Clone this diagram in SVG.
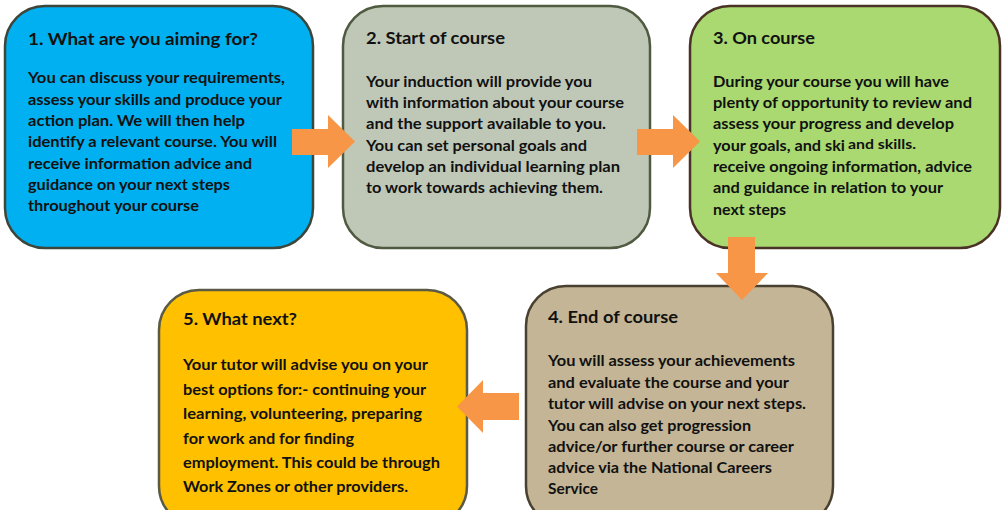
<svg xmlns="http://www.w3.org/2000/svg" width="1005" height="510" viewBox="0 0 1005 510">
<style>
.box{stroke-width:2.5}
.t{font-family:Lato,"Open Sans","Liberation Sans",sans-serif;font-weight:bold;fill:#111;}
.h{font-size:17.5px}
.b{font-size:15px}
.arr{fill:#F79646}
</style>
<rect width="1005" height="510" fill="#fff"/>
<g id="node1">
<rect class="box" x="5" y="6" width="308" height="242" rx="40" fill="#00B0F0" stroke="#3c463a"/>
<text class="t h" x="28" y="45" textLength="230" lengthAdjust="spacingAndGlyphs">1. What are you aiming for?</text>
<text class="t b" x="28" y="83" textLength="257" lengthAdjust="spacingAndGlyphs">You can discuss your requirements,</text>
<text class="t b" x="28" y="104.5" textLength="254" lengthAdjust="spacingAndGlyphs">assess your skills and produce your</text>
<text class="t b" x="28" y="126" textLength="217" lengthAdjust="spacingAndGlyphs">action plan. We will then help</text>
<text class="t b" x="28" y="147" textLength="249" lengthAdjust="spacingAndGlyphs">identify a relevant course. You will</text>
<text class="t b" x="28" y="168.5" textLength="224" lengthAdjust="spacingAndGlyphs">receive information advice and</text>
<text class="t b" x="28" y="190" textLength="202" lengthAdjust="spacingAndGlyphs">guidance on your next steps</text>
<text class="t b" x="28" y="211" textLength="171" lengthAdjust="spacingAndGlyphs">throughout your course</text>
</g>
<g id="node2">
<rect class="box" x="343" y="6" width="307" height="242" rx="40" fill="#BFC7B7" stroke="#4f5a40"/>
<text class="t h" x="366" y="44" textLength="139" lengthAdjust="spacingAndGlyphs">2. Start of course</text>
<text class="t b" x="366" y="87" textLength="226" lengthAdjust="spacingAndGlyphs">Your induction will provide you</text>
<text class="t b" x="366" y="108" textLength="258" lengthAdjust="spacingAndGlyphs">with information about your course</text>
<text class="t b" x="366" y="129" textLength="240" lengthAdjust="spacingAndGlyphs">and the support available to you.</text>
<text class="t b" x="366" y="151" textLength="221" lengthAdjust="spacingAndGlyphs">You can set personal goals and</text>
<text class="t b" x="366" y="172" textLength="254" lengthAdjust="spacingAndGlyphs">develop an individual learning plan</text>
<text class="t b" x="366" y="193" textLength="237" lengthAdjust="spacingAndGlyphs">to work towards achieving them.</text>
</g>
<g id="node3">
<rect class="box" x="690" y="6" width="310" height="242" rx="40" fill="#A9D970" stroke="#4a3326"/>
<text class="t h" x="713" y="44" textLength="102" lengthAdjust="spacingAndGlyphs">3. On course</text>
<text class="t b" x="713" y="87" textLength="236" lengthAdjust="spacingAndGlyphs">During your course you will have</text>
<text class="t b" x="713" y="108" textLength="259" lengthAdjust="spacingAndGlyphs">plenty of opportunity to review and</text>
<text class="t b" x="713" y="129" textLength="241" lengthAdjust="spacingAndGlyphs">assess your progress and develop</text>
<text class="t b" x="713" y="151" textLength="132" lengthAdjust="spacingAndGlyphs">your goals, and ski</text>
<text class="t" style="font-size:14px" x="848" y="149" textLength="68" lengthAdjust="spacingAndGlyphs">and skills.</text>
<text class="t b" x="713" y="172" textLength="259" lengthAdjust="spacingAndGlyphs">receive ongoing information, advice</text>
<text class="t b" x="713" y="193" textLength="230" lengthAdjust="spacingAndGlyphs">and guidance in relation to your</text>
<text class="t b" x="713" y="215" textLength="73" lengthAdjust="spacingAndGlyphs">next steps</text>
</g>
<g id="node4">
<rect class="box" x="526" y="286" width="307" height="240" rx="40" fill="#C4B596" stroke="#4a4030"/>
<text class="t h" x="548" y="323" textLength="130" lengthAdjust="spacingAndGlyphs">4. End of course</text>
<text class="t b" x="548" y="366" textLength="247" lengthAdjust="spacingAndGlyphs">You will assess your achievements</text>
<text class="t b" x="548" y="388" textLength="241" lengthAdjust="spacingAndGlyphs">and evaluate the course and your</text>
<text class="t b" x="548" y="409" textLength="258" lengthAdjust="spacingAndGlyphs">tutor will advise on your next steps.</text>
<text class="t b" x="548" y="431" textLength="203" lengthAdjust="spacingAndGlyphs">You can also get progression</text>
<text class="t b" x="548" y="452" textLength="246" lengthAdjust="spacingAndGlyphs">advice/or further course or career</text>
<text class="t b" x="548" y="473" textLength="224" lengthAdjust="spacingAndGlyphs">advice via the National Careers</text>
<text class="t b" x="548" y="494" textLength="50" lengthAdjust="spacingAndGlyphs">Service</text>
</g>
<g id="node5">
<rect class="box" x="159" y="290" width="308" height="236" rx="40" fill="#FFC000" stroke="#5a5a45"/>
<text class="t h" x="183" y="325" textLength="114" lengthAdjust="spacingAndGlyphs">5. What next?</text>
<text class="t b" x="183" y="370" textLength="245" lengthAdjust="spacingAndGlyphs">Your tutor will advise you on your</text>
<text class="t b" x="183" y="395" textLength="243" lengthAdjust="spacingAndGlyphs">best options for:- continuing your</text>
<text class="t b" x="183" y="419" textLength="239" lengthAdjust="spacingAndGlyphs">learning, volunteering, preparing</text>
<text class="t b" x="183" y="444" textLength="171" lengthAdjust="spacingAndGlyphs">for work and for finding</text>
<text class="t b" x="183" y="468" textLength="257" lengthAdjust="spacingAndGlyphs">employment. This could be through</text>
<text class="t b" x="183" y="492" textLength="225" lengthAdjust="spacingAndGlyphs">Work Zones or other providers.</text>
</g>
<g id="connectors">
<polygon class="arr" points="292,129 328,129 328,115 355,141.5 328,168 328,155 292,155"/>
<polygon class="arr" points="637,129 673,129 673,115 700,141.5 673,168 673,155 637,155"/>
<polygon class="arr" points="728,237 755,237 755,273 768,273 742,300 716,273 728,273"/>
<polygon class="arr" points="519,393 483,393 483,380 457,406.5 483,433 483,420 519,420"/>
</g>
</svg>
